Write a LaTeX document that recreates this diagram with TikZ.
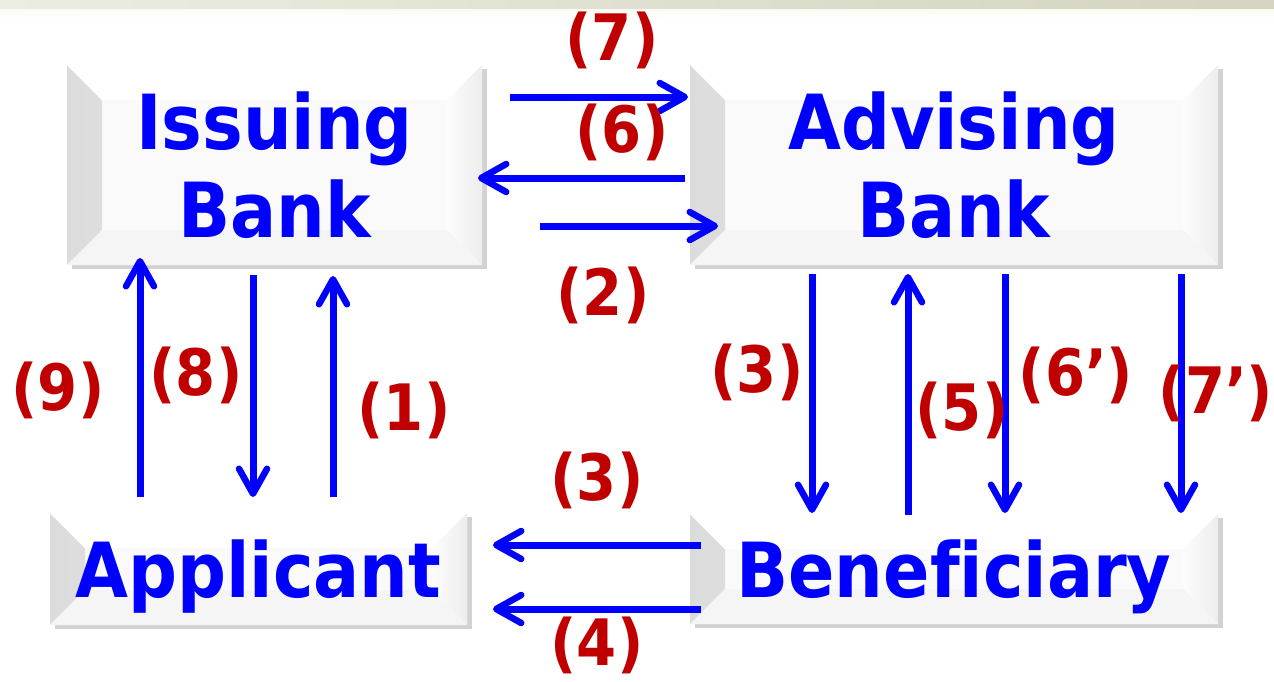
\documentclass[tikz,border=0pt]{standalone}
\usepackage{fontspec}
\setmainfont{DejaVu Sans Condensed}[Ligatures={NoCommon}]
\usetikzlibrary{arrows.meta,calc,shadows}
\definecolor{lblred}{HTML}{C00000}
\definecolor{txtblue}{HTML}{0000FF}
\newcommand{\bvsize}{35pt}
\tikzset{
  bevelbox/.style={rectangle, inner sep=0pt, fill=black!2, text=txtblue,
    font=\bfseries\fontsize{76}{88}\selectfont, align=center, text depth=0pt,
    drop shadow={shadow xshift=5pt, shadow yshift=-4pt, opacity=0.25, fill=black!70},
    path picture={
      \fill[left color=black!14, right color=black!3]
        (path picture bounding box.south west) -- (path picture bounding box.north west)
        -- ($(path picture bounding box.north west)+(\bvsize,-\bvsize)$)
        -- ($(path picture bounding box.south west)+(\bvsize,\bvsize)$) -- cycle;
      \fill[white]
        (path picture bounding box.north west) -- (path picture bounding box.north east)
        -- ($(path picture bounding box.north east)+(-\bvsize,-\bvsize)$)
        -- ($(path picture bounding box.north west)+(\bvsize,-\bvsize)$) -- cycle;
      \fill[left color=black!1, right color=black!7]
        (path picture bounding box.north east) -- (path picture bounding box.south east)
        -- ($(path picture bounding box.south east)+(-\bvsize,\bvsize)$)
        -- ($(path picture bounding box.north east)+(-\bvsize,-\bvsize)$) -- cycle;
      \fill[black!4]
        (path picture bounding box.south west) -- (path picture bounding box.south east)
        -- ($(path picture bounding box.south east)+(-\bvsize,\bvsize)$)
        -- ($(path picture bounding box.south west)+(\bvsize,\bvsize)$) -- cycle;
    }},
  lbl/.style={text=lblred, font=\bfseries\fontsize{64}{70}\selectfont, inner sep=0pt},
  arr/.style={draw=txtblue, line width=7pt,
    -{Straight Barb[length=25pt,width=28pt,line width=6.5pt,round]}},
}
\begin{document}
\begin{tikzpicture}[x=1pt,y=-1pt]
\useasboundingbox (0,0) rectangle (1274,681);
\fill[white] (0,0) rectangle (1274,681);
% top strip
\shade[top color={rgb,255:red,250;green,250;blue,244}, bottom color=white] (0,8) rectangle (1274,20);
\shade[left color={rgb,255:red,236;green,236;blue,226}, right color={rgb,255:red,212;green,212;blue,192}] (0,0) rectangle (1274,8);

% boxes
\node[bevelbox, minimum width=415pt, minimum height=200pt] (issuing) at (274.5,165) {Issuing\\Bank};
\node[bevelbox, minimum width=528pt, minimum height=200pt] (advising) at (954,165) {Advising\\Bank};
\node[bevelbox, minimum width=417pt, minimum height=112pt] (applicant) at (258.5,569) {Applicant};
\node[bevelbox, minimum width=528pt, minimum height=110pt] (beneficiary) at (954,569) {Beneficiary};

% arrow end points
\coordinate (a7s) at (510,97);   \coordinate (a7e) at (688,97);
\coordinate (a6s) at (685,178);  \coordinate (a6e) at (478,178);
\coordinate (a2s) at (540,226);  \coordinate (a2e) at (718,226);
\coordinate (a9s) at (140,497);  \coordinate (a9e) at (140,258);
\coordinate (a8s) at (253,275);  \coordinate (a8e) at (253,497);
\coordinate (a1s) at (333,497);  \coordinate (a1e) at (333,276);
\coordinate (b3s) at (812,274);  \coordinate (b3e) at (812,513);
\coordinate (b5s) at (908,515);  \coordinate (b5e) at (908,274);
\coordinate (b6s) at (1005,274); \coordinate (b6e) at (1005,513);
\coordinate (b7s) at (1181,274); \coordinate (b7e) at (1181,513);
\coordinate (c3s) at (701,545);  \coordinate (c3e) at (493,545);
\coordinate (c4s) at (701,609);  \coordinate (c4e) at (493,609);

\draw[arr] (a7s) -- (a7e);
\draw[arr] (a6s) -- (a6e);
\draw[arr] (a2s) -- (a2e);
\draw[arr] (a9s) -- (a9e);
\draw[arr] (a8s) -- (a8e);
\draw[arr] (a1s) -- (a1e);
\draw[arr] (b3s) -- (b3e);
\draw[arr] (b5s) -- (b5e);
\draw[arr] (b6s) -- (b6e);
\draw[arr] (b7s) -- (b7e);
\draw[arr] (c3s) -- (c3e);
\draw[arr] (c4s) -- (c4e);

% labels
\node[lbl] (l7) at (612,40) {(7)};
\node[lbl] (l6) at (622,132) {(6)};
\node[lbl] (l2) at (603,295) {(2)};
\node[lbl] (l9) at (58,390) {(9)};
\node[lbl] (l8) at (196,375) {(8)};
\node[lbl] (l1) at (404,410) {(1)};
\node[lbl] (l3a) at (757,372) {(3)};
\node[lbl] (l5) at (962,410) {(5)};
\node[lbl] (l6p) at (1076,375) {(6’)};
\node[lbl] (l7p) at (1216,393) {(7’)};
\node[lbl] (l3b) at (597,480) {(3)};
\node[lbl] (l4) at (597,645) {(4)};
\end{tikzpicture}
\end{document}
